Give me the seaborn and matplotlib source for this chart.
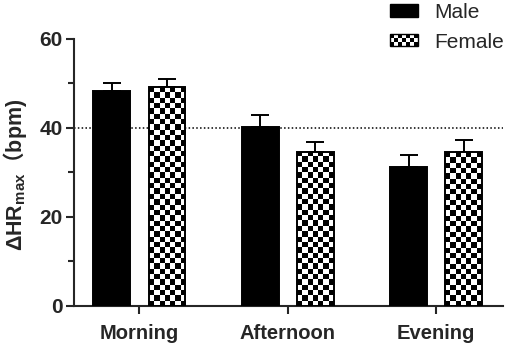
import matplotlib
matplotlib.use("Agg")
import matplotlib.pyplot as plt
import numpy as np
import pandas as pd
import seaborn as sns
from matplotlib.legend_handler import HandlerBase
from matplotlib.patches import Patch, Rectangle
from matplotlib.ticker import MultipleLocator

# values
times = ["Morning", "Afternoon", "Evening"]
male_mean = [48.4, 40.3, 31.3]
male_err = [1.8, 2.7, 2.6]
female_mean = [49.2, 34.7, 34.6]
female_err = [1.8, 2.2, 2.8]

df = pd.DataFrame({
    "time": times * 2,
    "sex": ["Male"] * 3 + ["Female"] * 3,
    "value": male_mean + female_mean,
})

sns.set_style("ticks")
plt.rcParams["font.family"] = ["Liberation Sans", "Noto Sans CJK SC", "DejaVu Sans"]
plt.rcParams["font.weight"] = "bold"
plt.rcParams["mathtext.fontset"] = "custom"
plt.rcParams["mathtext.rm"] = "Noto Sans CJK SC:bold"
plt.rcParams["mathtext.bf"] = "Liberation Sans:bold"

fig = plt.figure(figsize=(5.1, 3.47), dpi=100)
ax = fig.add_axes([0.1451, 0.1182, 0.8412, 0.7695])

sns.barplot(data=df, x="time", y="value", hue="sex", order=times,
            hue_order=["Male", "Female"],
            palette={"Male": "black", "Female": "white"},
            width=0.745, gap=0.335, edgecolor="black", linewidth=1.4,
            errorbar=None, legend=False, ax=ax, zorder=3)

ax.set_xlim(-0.44, 2.45)
ax.set_ylim(0, 60)

# upper error bars
for cont, err in zip(ax.containers, [male_err, female_err]):
    xs = [p.get_x() + p.get_width() / 2 for p in cont]
    hs = [p.get_height() for p in cont]
    ax.errorbar(xs, hs, yerr=[np.zeros(len(err)), err], fmt="none",
                ecolor="black", elinewidth=1.4, capsize=6.5, capthick=1.4,
                zorder=2)


def checker_fill(ax, patch, sq_px=5.3):
    x0, y0 = patch.get_x(), patch.get_y()
    w, h = patch.get_width(), patch.get_height()
    (px0, py0), (px1, py1) = ax.transData.transform([(x0, y0), (x0 + w, y0 + h)])
    ncol = max(1, round((px1 - px0) / sq_px))
    nrow = max(1, round((py1 - py0) / sq_px))
    grid = np.indices((nrow, ncol)).sum(axis=0) % 2
    im = ax.imshow(grid, cmap="gray", extent=(x0, x0 + w, y0, y0 + h),
                   origin="upper", aspect="auto", interpolation="nearest",
                   zorder=patch.get_zorder() - 0.1)
    im.set_clip_path(patch)
    patch.set_facecolor("none")


for p in ax.containers[1]:
    checker_fill(ax, p)

ax.set_xlim(-0.44, 2.45)
ax.set_ylim(0, 60)
ax.set_aspect("auto")

ax.axhline(40, color="black", ls=(0, (1, 1.5)), lw=1.1, zorder=1)

sns.despine(ax=ax)
for s in ["left", "bottom"]:
    ax.spines[s].set_linewidth(1.5)
ax.yaxis.set_major_locator(MultipleLocator(20))
ax.yaxis.set_minor_locator(MultipleLocator(10))
ax.tick_params(axis="y", which="major", length=6, width=1.5, labelsize=15, pad=2)
ax.tick_params(axis="y", which="minor", length=4, width=1.5)
ax.tick_params(axis="x", length=6, width=1.5, labelsize=14.5, pad=7)
for lab in ax.get_xticklabels() + ax.get_yticklabels():
    lab.set_fontweight("bold")

ax.set_xlabel("")
ax.set_ylabel(r"$\mathbf{ΔHR}_{\mathbf{max}}\mathrm{（}\mathbf{bpm)}$",
              fontsize=15.5)
ax.yaxis.set_label_coords(-0.106, 0.49)


class CheckerHandler(HandlerBase):
    def create_artists(self, legend, orig_handle, xdescent, ydescent,
                       width, height, fontsize, trans):
        ncol, nrow = 7, 3
        cw, ch = width / ncol, height / nrow
        arts = [Rectangle((-xdescent, -ydescent), width, height,
                          facecolor="white", edgecolor="black", lw=1,
                          transform=trans)]
        for r in range(nrow):
            for c in range(ncol):
                if (r + c) % 2 == 0:
                    arts.append(Rectangle((-xdescent + c * cw, -ydescent + r * ch),
                                          cw, ch, facecolor="black", lw=0,
                                          transform=trans))
        return arts


male_h = Patch(facecolor="black", edgecolor="black")
female_h = Patch(facecolor="white", edgecolor="black")
leg = fig.legend([male_h, female_h], ["Male", "Female"],
                 handler_map={female_h: CheckerHandler()},
                 loc="upper right", bbox_to_anchor=(0.995, 1.0),
                 frameon=False, fontsize=15, handlelength=1.35,
                 handleheight=0.55, handletextpad=0.8, labelspacing=0.5,
                 borderpad=0.15, borderaxespad=0)
for t in leg.get_texts():
    t.set_fontweight("normal")

fig.savefig("out.png", dpi=100)
